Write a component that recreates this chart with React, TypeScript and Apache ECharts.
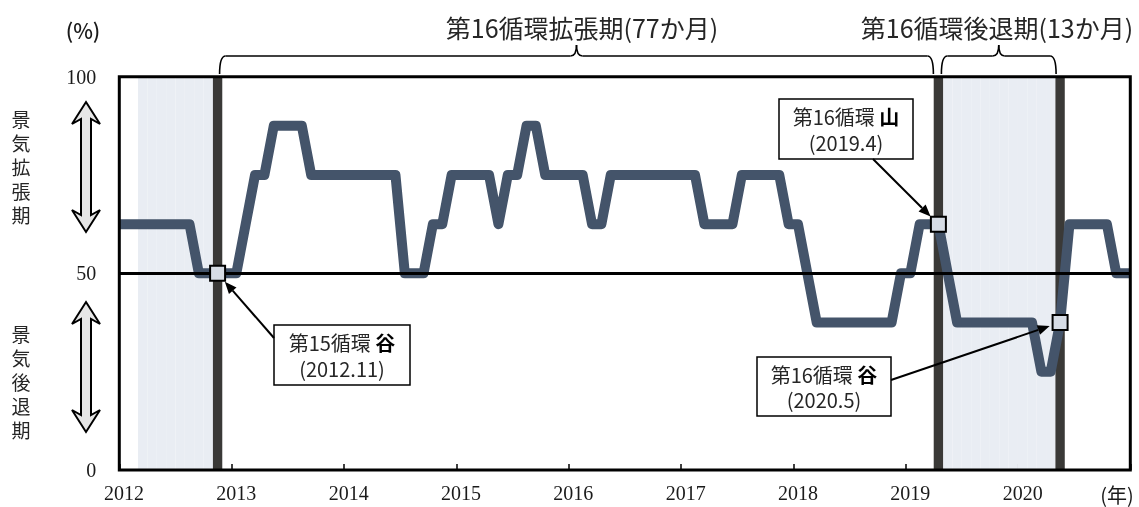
import React, { useEffect, useRef } from 'react';
import * as echarts from 'echarts';

// ---- data ----
const years = [2012, 2013, 2014, 2015, 2016, 2017, 2018, 2019, 2020];
const categories = years.flatMap((y) => Array.from({ length: 12 }, (_, m) => `${y}/${m + 1}`));

const di2012 = [62.5, 62.5, 62.5, 62.5, 62.5, 62.5, 62.5, 62.5, 50, 50, 50, 50];
const di2013 = [50, 62.5, 75, 75, 87.5, 87.5, 87.5, 87.5, 75, 75, 75, 75];
const di2014 = [75, 75, 75, 75, 75, 75, 50, 50, 50, 62.5, 62.5, 75];
const di2015 = [75, 75, 75, 75, 62.5, 75, 75, 87.5, 87.5, 75, 75, 75];
const di2016 = [75, 75, 62.5, 62.5, 75, 75, 75, 75, 75, 75, 75, 75];
const di2017 = [75, 75, 62.5, 62.5, 62.5, 62.5, 75, 75, 75, 75, 75, 62.5];
const di2018 = [62.5, 50, 37.5, 37.5, 37.5, 37.5, 37.5, 37.5, 37.5, 37.5, 37.5, 50];
const di2019 = [50, 62.5, 62.5, 62.5, 50, 37.5, 37.5, 37.5, 37.5, 37.5, 37.5, 37.5];
const di2020 = [37.5, 37.5, 25, 25, 37.5, 62.5, 62.5, 62.5, 62.5, 62.5, 50, 50];
const diValues = [...di2012, ...di2013, ...di2014, ...di2015, ...di2016, ...di2017, ...di2018, ...di2019, ...di2020];

const yTickValues = [0, 50, 100];
const referenceLevel = 50;

// recession shading (month ranges)
const recessionRanges = [
  ['2012/3', '2012/10'],
  ['2019/5', '2020/4'],
];

// turning points
const turningMonths = ['2012/11', '2019/4', '2020/5'];
const turningLine1 = ['第15循環 ', '第16循環 ', '第16循環 '];
const turningBold = ['谷', '山', '谷'];
const turningLine2 = ['(2012.11)', '(2019.4)', '(2020.5)'];

// phases (brace labels)
const phaseLabels = ['第16循環拡張期(77か月)', '第16循環後退期(13か月)'];
const phaseStart = ['2012/11', '2019/4'];
const phaseEnd = ['2019/4', '2020/5'];

const sideLabels = ['景気拡張期', '景気後退期'];

// ---- layout ----
const W = 1139;
const H = 507;
const G = { left: 119.3, top: 76.7, right: 8.7, bottom: 37 };
const CJK = '"Noto Sans CJK JP", "Noto Sans", sans-serif';
const SERIF = '"Liberation Serif", "DejaVu Serif", serif';
const calloutBoxes = [
  { x: 274, y: 325, w: 136, h: 60, sx: 274, sy: 338 },
  { x: 779, y: 99, w: 134, h: 60, sx: 873, sy: 159 },
  { x: 757, y: 357, w: 134, h: 59, sx: 891, sy: 380 },
];
const phaseTextX = [582, 997];
const sideLayout = [
  { tx: 21, ty: 118, ax: 86, top: 102, bottom: 232 },
  { tx: 21, ty: 333, ax: 86, top: 302, bottom: 432 },
];
const sideStep = 24;

function brace(x0: number, x1: number, yEnd: number, yMid: number, yTip: number) {
  const xm = (x0 + x1) / 2;
  const r = 6;
  const st = { stroke: '#000', lineWidth: 1.6, fill: 'none' };
  return [
    { type: 'bezierCurve', shape: { x1: x0, y1: yEnd, cpx1: x0, cpy1: yMid, x2: x0 + r, y2: yMid }, style: st, z: 100 },
    { type: 'line', shape: { x1: x0 + r, y1: yMid, x2: xm - r, y2: yMid }, style: st, z: 100 },
    { type: 'bezierCurve', shape: { x1: xm - r, y1: yMid, cpx1: xm, cpy1: yMid, x2: xm, y2: yTip }, style: st, z: 100 },
    { type: 'bezierCurve', shape: { x1: xm, y1: yTip, cpx1: xm, cpy1: yMid, x2: xm + r, y2: yMid }, style: st, z: 100 },
    { type: 'line', shape: { x1: xm + r, y1: yMid, x2: x1 - r, y2: yMid }, style: st, z: 100 },
    { type: 'bezierCurve', shape: { x1: x1 - r, y1: yMid, cpx1: x1, cpy1: yMid, x2: x1, y2: yEnd }, style: st, z: 100 },
  ];
}

function dblArrow(cx: number, top: number, bottom: number) {
  const hw = 14, sw = 5, hh = 22, notch = 5;
  return {
    type: 'polygon',
    shape: {
      points: [
        [cx, top], [cx + hw, top + hh], [cx + sw, top + hh - notch], [cx + sw, bottom - hh + notch],
        [cx + hw, bottom - hh], [cx, bottom], [cx - hw, bottom - hh], [cx - sw, bottom - hh + notch],
        [cx - sw, top + hh - notch], [cx - hw, top + hh],
      ],
    },
    style: { fill: '#e6e6e6', stroke: '#000', lineWidth: 2, lineJoin: 'miter' },
    z: 100,
  };
}

function arrow(x1: number, y1: number, x2: number, y2: number) {
  const dx = x2 - x1, dy = y2 - y1, L = Math.hypot(dx, dy), ux = dx / L, uy = dy / L;
  const hl = 12, hw = 5;
  const bx = x2 - ux * hl, by = y2 - uy * hl;
  return [
    { type: 'line', shape: { x1, y1, x2: bx, y2: by }, style: { stroke: '#000', lineWidth: 2 }, z: 110 },
    { type: 'polygon', shape: { points: [[x2, y2], [bx - uy * hw, by + ux * hw], [bx + uy * hw, by - ux * hw]] }, style: { fill: '#000' }, z: 110 },
  ];
}

function textEl(x: number, y: number, text: string, fontSize: number, extra: any = {}) {
  return {
    type: 'text', x, y, z: 120,
    style: {
      text, fontSize, fontFamily: CJK, fill: '#262626',
      align: 'center', textAlign: 'center', verticalAlign: 'middle', textVerticalAlign: 'middle',
      ...extra,
    },
  };
}

export default function App() {
  const ref = useRef<HTMLDivElement>(null);
  useEffect(() => {
    document.body.style.margin = '0';
    const chart = echarts.init(ref.current!, null, { renderer: 'svg' });
    const idx = (m: string) => categories.indexOf(m);
    const shade = categories.map((_, i) =>
      recessionRanges.some(([a, b]) => i >= idx(a) && i <= idx(b)) ? 100 : '-'
    );
    const dark = categories.map((c) => (turningMonths.includes(c) ? 100 : '-'));
    const points = turningMonths.map((m) => [idx(m), diValues[idx(m)]]);

    chart.setOption({
      animation: false,
      grid: { left: G.left, top: G.top, right: G.right, bottom: G.bottom, show: false },
      xAxis: {
        type: 'category',
        data: categories,
        boundaryGap: true,
        axisLine: { show: false },
        axisTick: { show: true, inside: true, length: 6, interval: 11, lineStyle: { color: '#000', width: 1.5 } },
        axisLabel: {
          interval: 11,
          formatter: (v: string) => v.split('/')[0],
          fontFamily: SERIF, fontSize: 20, color: '#1a1a1a', margin: 13,
        },
        splitLine: { show: false },
      },
      yAxis: {
        type: 'value', min: yTickValues[0], max: yTickValues[2], interval: yTickValues[1] - yTickValues[0],
        axisLine: { show: false }, axisTick: { show: false }, splitLine: { show: false },
        axisLabel: { fontFamily: SERIF, fontSize: 20, color: '#1a1a1a', margin: 23 },
      },
      series: [
        { type: 'bar', data: shade, barCategoryGap: '0%', barGap: '-100%', itemStyle: { color: '#e9edf3' }, z: 1, silent: true },
        { type: 'bar', data: dark, barCategoryGap: '0%', barGap: '-100%', itemStyle: { color: '#3a3937' }, z: 1, silent: true },
        {
          type: 'line', data: diValues, symbol: 'none', z: 3,
          lineStyle: { color: '#44546a', width: 10, join: 'round', cap: 'square' },
        },
        {
          type: 'line', data: categories.map(() => '-'), symbol: 'none', z: 4,
          markLine: {
            symbol: 'none', silent: true, label: { show: false },
            lineStyle: { color: '#000', width: 3, type: 'solid' },
            data: [{ yAxis: referenceLevel }],
          },
        },
        {
          type: 'scatter', data: points, symbol: 'rect', symbolSize: 15, z: 5,
          itemStyle: { color: '#d6dce5', borderColor: '#000', borderWidth: 2, opacity: 1 },
        },
      ],
    });

    const px = (i: number, v: number) => chart.convertToPixel({ xAxisIndex: 0, yAxisIndex: 0 }, [i, v]) as number[];
    const graphics: any[] = [];
    // plot border
    graphics.push({
      type: 'rect', z: 100,
      shape: { x: G.left, y: G.top, width: W - G.left - G.right, height: H - G.top - G.bottom },
      style: { fill: 'none', stroke: '#000', lineWidth: 3 },
    });
    // (%) and (年)
    graphics.push(textEl(83, 30, '(%)', 21, { fill: '#1a1a1a', fontWeight: 500 }));
    graphics.push(textEl(1117, 494, '(年)', 20, { fill: '#1a1a1a' }));
    // phases
    phaseLabels.forEach((lab, k) => {
      const a = px(idx(phaseStart[k]), 50)[0];
      const b = px(idx(phaseEnd[k]), 50)[0];
      const x0 = k === 0 ? a + 2 : a + 3;
      const x1 = k === 0 ? b - 5 : b - 4;
      graphics.push(...brace(x0, x1, 74, 56, 45));
      graphics.push(textEl(phaseTextX[k], 27, lab, 25));
    });
    // side labels (one glyph per element, stacked vertically)
    sideLabels.forEach((lab, k) => {
      const L = sideLayout[k];
      lab.split('').forEach((ch, j) => {
        graphics.push(textEl(L.tx, L.ty + j * sideStep, ch, 19, { lineHeight: 20 }));
      });
      graphics.push(dblArrow(L.ax, L.top, L.bottom));
    });
    // callouts
    turningMonths.forEach((m, k) => {
      const B = calloutBoxes[k];
      const [mx, my] = px(idx(m), diValues[idx(m)]);
      const dx = B.sx - mx, dy = B.sy - my, L = Math.hypot(dx, dy);
      const tx = mx + (dx / L) * 11, ty = my + (dy / L) * 11;
      graphics.push(...arrow(B.sx, B.sy, tx, ty));
      graphics.push({
        type: 'rect', z: 105, shape: { x: B.x, y: B.y, width: B.w, height: B.h },
        style: { fill: '#fff', stroke: '#000', lineWidth: 1.5 },
      });
      const cx = B.x + B.w / 2, cy = B.y + B.h / 2;
      graphics.push({
        type: 'text', x: cx, y: cy - 12.5, z: 120,
        style: {
          text: `{r|${turningLine1[k]}}{b|${turningBold[k]}}`,
          align: 'center', textAlign: 'center', verticalAlign: 'middle', textVerticalAlign: 'middle',
          rich: {
            r: { fontSize: 20, fontFamily: CJK, fill: '#262626', color: '#262626', lineHeight: 22 },
            b: { fontSize: 20, fontFamily: CJK, fontWeight: 'bold', fill: '#000', color: '#000', lineHeight: 22 },
          },
        },
      });
      graphics.push(textEl(cx, cy + 13, turningLine2[k], 20, { lineHeight: 22 }));
    });
    chart.setOption({ graphic: { elements: graphics } });

    return () => chart.dispose();
  }, []);
  return <div ref={ref} style={{ position: 'fixed', left: 0, top: 0, width: W, height: H }} />;
}
